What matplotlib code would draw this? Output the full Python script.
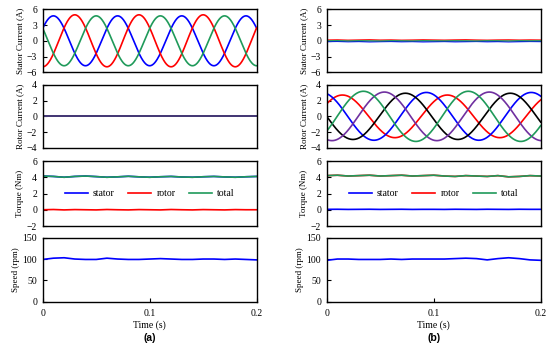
import numpy as np
import matplotlib
matplotlib.use('Agg')
import matplotlib.pyplot as plt

plt.rcParams['font.family'] = ['Liberation Serif', 'DejaVu Serif']
plt.rcParams['font.size'] = 7

# sinusoid parameters (amplitude A, frequency Hz, phase deg)
stator_a_colors = ['blue', 'red', '#1f9a5a']
stator_a_amp = [4.75, 4.95, 4.75]
stator_a_phase = [30, -90, 150]
stator_a_freq = 16.67

rotor_b_colors = ['red', 'blue', 'black', '#7030a0', '#1f9a5a']
rotor_b_amp = [2.72, 3.05, 2.95, 3.1, 3.2]
rotor_b_phase = [36, 108, 180, 252, 324]
rotor_b_freq = 10.2

# sampled traces (every 0.01 s)
t_s = np.linspace(0, 0.2, 21)
stator_b_red = [0.15, 0.18, 0.12, 0.16, 0.2, 0.14, 0.17, 0.12, 0.15, 0.19, 0.16, 0.13, 0.17, 0.2, 0.15, 0.12, 0.16, 0.18, 0.14, 0.17, 0.15]
stator_b_green = [0.0, 0.03, -0.02, 0.02, 0.0, -0.03, 0.02, 0.01, -0.02, 0.03, 0.0, -0.01, 0.02, 0.0, -0.03, 0.02, 0.01, -0.02, 0.02, 0.0, 0.01]
stator_b_blue = [-0.15, -0.12, -0.18, -0.14, -0.2, -0.16, -0.13, -0.18, -0.15, -0.2, -0.17, -0.14, -0.19, -0.16, -0.13, -0.18, -0.15, -0.2, -0.16, -0.13, -0.15]

torque_a_total = [4.15, 4.1, 4.0, 4.1, 4.15, 4.08, 4.0, 4.05, 4.12, 4.05, 4.0, 4.06, 4.1, 4.03, 4.0, 4.06, 4.1, 4.04, 4.0, 4.06, 4.1]
torque_a_rotor = [0.0, 0.03, -0.02, 0.02, 0.0, -0.02, 0.03, 0.0, -0.02, 0.02, 0.0, -0.02, 0.03, 0.0, -0.02, 0.02, 0.0, -0.02, 0.02, 0.0, 0.0]
torque_b_total = [4.2, 4.25, 4.15, 4.2, 4.25, 4.15, 4.2, 4.25, 4.15, 4.2, 4.25, 4.15, 4.1, 4.2, 4.15, 4.1, 4.2, 4.05, 4.1, 4.2, 4.15]
torque_b_stator = [0.05, 0.06, 0.04, 0.05, 0.06, 0.04, 0.05, 0.06, 0.04, 0.05, 0.05, 0.04, 0.06, 0.05, 0.04, 0.06, 0.05, 0.04, 0.06, 0.05, 0.05]

speed_a = [99, 102, 103, 100, 99, 99, 102, 100, 99, 99, 100, 101, 100, 99, 99, 100, 100, 99, 100, 99, 98]
speed_b = [97, 100, 100, 99, 99, 99, 100, 99, 100, 100, 100, 100, 101, 102, 101, 98, 101, 103, 101, 98, 97]

t = np.linspace(0, 0.2, 1001)

fig = plt.figure(figsize=(5.5, 3.51), dpi=100)
W, H = 550.0, 351.0
lefts = [42.7, 326.7]
width = 214
rows = [(9.3, 72.3), (85, 147.7), (161, 226), (237.7, 301.7)]

def make_ax(col, row):
    top, bot = rows[row]
    ax = fig.add_axes([lefts[col] / W, 1 - bot / H, width / W, (bot - top) / H])
    ax.set_xlim(0, 0.2)
    ax.tick_params(direction='in', length=3, width=0.8, labelsize=7, pad=4,
                   top=False, right=False)
    for s in ax.spines.values():
        s.set_linewidth(1.0)
    if row < 3:
        ax.set_xticks([])
    else:
        ax.set_xticks([0, 0.1, 0.2])
        ax.set_xticklabels(['0', '0.1', '0.2'])
        ax.tick_params(axis='x', pad=5)
        ax.set_xlabel('Time (s)', labelpad=2, fontsize=7)
    return ax

lw = 1.2
for col in range(2):
    ax1 = make_ax(col, 0)
    ax1.set_ylim(-6, 6)
    ax1.set_yticks([-6, -3, 0, 3, 6])
    ax1.set_yticklabels(['\u22126', '\u22123', '0', '3', '6'])
    ax1.set_ylabel('Stator Current (A)', labelpad=2, fontsize=6.5)
    if col == 0:
        for c, a, p in zip(stator_a_colors, stator_a_amp, stator_a_phase):
            ax1.plot(t, a * np.sin(2 * np.pi * stator_a_freq * t + np.radians(p)), color=c, lw=lw)
    else:
        ax1.plot(t_s, stator_b_blue, color='blue', lw=0.9)
        ax1.plot(t_s, stator_b_red, color='red', lw=0.9)
        ax1.plot(t_s, stator_b_green, color='#1f9a5a', lw=0.9)

    ax2 = make_ax(col, 1)
    ax2.set_ylim(-4, 4)
    ax2.set_yticks([-4, -2, 0, 2, 4])
    ax2.set_yticklabels(['\u22124', '\u22122', '0', '2', '4'])
    ax2.set_ylabel('Rotor Current (A)', labelpad=2, fontsize=6.5)
    for c, a, p in zip(rotor_b_colors, rotor_b_amp, rotor_b_phase):
        if col == 0:
            ax2.plot(t, np.zeros_like(t), color=c, lw=lw)
        else:
            ax2.plot(t, a * np.sin(2 * np.pi * rotor_b_freq * t + np.radians(p)), color=c, lw=lw)
    if col == 0:
        ax2.plot(t, np.zeros_like(t), color='#4b2a7a', lw=lw)

    ax3 = make_ax(col, 2)
    ax3.set_ylim(-2, 6)
    ax3.set_yticks([-2, 0, 2, 4, 6])
    ax3.set_yticklabels(['\u22122', '0', '2', '4', '6'])
    ax3.set_ylabel('Torque (Nm)', labelpad=2, fontsize=6.5)
    if col == 0:
        ax3.plot(t_s, torque_a_total, color='blue', lw=lw, label='stator')
        ax3.plot(t_s, torque_a_rotor, color='red', lw=lw, label='rotor')
        ax3.plot(t_s, torque_a_total, color='#1f9a5a', lw=lw, label='total')
    else:
        ax3.plot(t_s, torque_b_stator, color='blue', lw=lw, label='stator')
        ax3.plot(t_s, torque_b_total, color='red', lw=lw, label='rotor')
        ax3.plot(t_s, torque_b_total, color='#1f9a5a', lw=lw, label='total')
    ax3.legend(loc='center', ncol=3, frameon=False, fontsize=7, handlelength=2.4,
               columnspacing=1.4, handletextpad=0.5, bbox_to_anchor=(0.5, 0.5),
               borderaxespad=0, borderpad=0)

    ax4 = make_ax(col, 3)
    ax4.set_ylim(0, 150)
    ax4.set_yticks([0, 50, 100, 150])
    ax4.set_ylabel('Speed (rpm)', labelpad=2, fontsize=6.5)
    ax4.plot(t_s, speed_a if col == 0 else speed_b, color='blue', lw=lw)

fig.text(150 / W, 1 - 338 / H, '(a)', ha='center', va='center',
         family=['Liberation Sans', 'DejaVu Sans'], fontweight='bold', fontsize=7.5)
fig.text(434 / W, 1 - 338 / H, '(b)', ha='center', va='center',
         family=['Liberation Sans', 'DejaVu Sans'], fontweight='bold', fontsize=7.5)

fig.savefig('out.png', dpi=100)
